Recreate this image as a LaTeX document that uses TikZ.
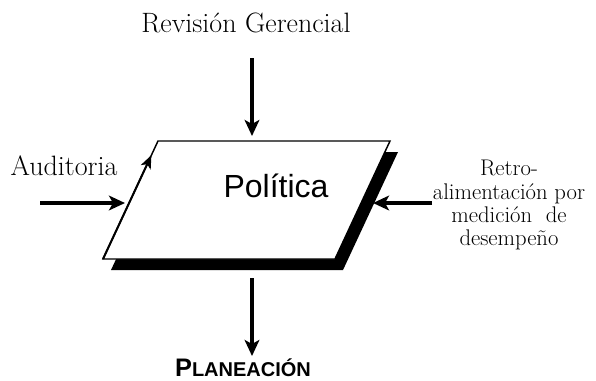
\documentclass[tikz,border=0pt]{standalone}
\usepackage{fontspec}
\newfontfamily\arialfont{Liberation Sans}
\usetikzlibrary{arrows.meta,calc}

\tikzset{
	flecha/.style = {line width=2.3pt, -{Stealth[length=12pt, width=11pt, inset=3pt]}},
	txt/.style = {inner sep=0pt, font=\fontsize{21}{25}\selectfont},
}

\begin{document}
\begin{tikzpicture}[x=0.75pt, y=-0.75pt]
	\useasboundingbox (0,0) rectangle (596,380);
	% esquinas del paralelogramo
	\coordinate (tl) at (158,141);
	\coordinate (tr) at (390,141);
	\coordinate (br) at (335,259);
	\coordinate (bl) at (103,259);
	% sombra y caja
	\fill[black] ([shift={(8,11)}]tl) -- ([shift={(8,11)}]tr) -- ([shift={(8,11)}]br) -- ([shift={(8,11)}]bl) -- cycle;
	\draw[fill=white, line width=1.1pt] (tl) -- (tr) -- (br) -- (bl) -- cycle;
	\draw[line width=1.5pt, -{Stealth[length=10pt, width=8pt, inset=2.5pt]}] (bl) -- ($(bl)!0.88!(tl)$);
	\node[anchor=base, inner sep=0pt, font=\arialfont\fontsize{24}{28}\selectfont] (pol) at (276,197) {Política};
	% textos
	\node[txt, anchor=base] (rev) at (246,32) {Revisión Gerencial};
	\node[txt, anchor=base] (aud) at (64,175) {Auditoria};
	\node[inner sep=0pt, anchor=north, align=center, font=\fontsize{17}{17.5}\selectfont] (retro) at (509,160)
		{Retro-\\alimentación por\\medición~ de\\desempeño};
	\node[inner sep=0pt, anchor=base, font=\arialfont\bfseries] (plan) at (243,376)
		{{\fontsize{19}{20}\selectfont P}{\fontsize{15}{16}\selectfont LANEACIÓN}};
	% flechas
	\coordinate (a1) at (252,58);   \coordinate (b1) at (252,136);
	\coordinate (a2) at (40,203);   \coordinate (b2) at (125,203);
	\coordinate (a3) at (432,203);  \coordinate (b3) at (373,203);
	\coordinate (a4) at (252,278);  \coordinate (b4) at (252,356);
	\draw[flecha] (a1) -- (b1);
	\draw[flecha] (a2) -- (b2);
	\draw[flecha] (a3) -- (b3);
	\draw[flecha] (a4) -- (b4);
\end{tikzpicture}
\end{document}
